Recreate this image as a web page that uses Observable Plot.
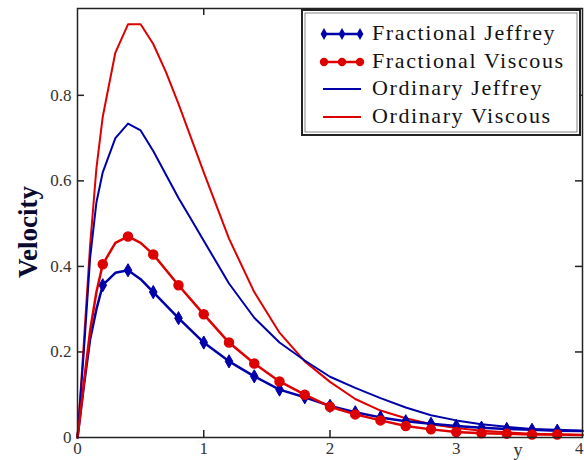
<!DOCTYPE html>
<html>
<head>
<meta charset="utf-8">
<script src="https://cdn.jsdelivr.net/npm/d3@7"></script>
<script src="https://cdn.jsdelivr.net/npm/@observablehq/plot@0.6"></script>
<style>
  html, body { margin: 0; padding: 0; background: #fff; }
  #chart { width: 584px; height: 460px; overflow: hidden; }
</style>
</head>
<body>
<div id="chart"></div>
<script>
// ---- data ----
const xOrd = [0,0.05,0.1,0.15,0.2,0.3,0.4,0.5,0.6,0.7,0.8,0.9,1.0,1.2,1.4,1.6,1.8,2.0,2.2,2.4,2.6,2.8,3.0,3.2,3.4,3.6,3.8,4.0];
const ordViscous = [0,0.22,0.45,0.63,0.75,0.90,0.966,0.966,0.92,0.855,0.78,0.70,0.62,0.465,0.34,0.245,0.178,0.13,0.09,0.063,0.045,0.031,0.022,0.016,0.012,0.009,0.007,0.006];
const ordJeffrey = [0,0.2,0.42,0.55,0.62,0.70,0.734,0.718,0.67,0.615,0.56,0.51,0.46,0.36,0.28,0.222,0.18,0.142,0.116,0.092,0.070,0.052,0.040,0.031,0.025,0.020,0.018,0.016];

const xFrac = [0,0.05,0.1,0.15,0.2,0.3,0.4,0.5,0.6,0.8,1.0,1.2,1.4,1.6,1.8,2.0,2.2,2.4,2.6,2.8,3.0,3.2,3.4,3.6,3.8,4.0];
const fracViscous = [0,0.126,0.25,0.34,0.405,0.455,0.470,0.455,0.428,0.356,0.288,0.222,0.173,0.131,0.100,0.072,0.054,0.040,0.027,0.019,0.013,0.010,0.009,0.007,0.007,0.006];
const fracJeffrey = [0,0.12,0.23,0.30,0.356,0.385,0.391,0.37,0.340,0.279,0.222,0.178,0.143,0.112,0.094,0.074,0.059,0.047,0.038,0.032,0.027,0.023,0.020,0.018,0.016,0.015];

const seriesNames = ["Fractional Jeffrey","Fractional Viscous","Ordinary Jeffrey","Ordinary Viscous"];
const xTicks = [0,1,2,3,4];
const xTickLabels = ["0","1","2","3","4"];
const yTicks = [0,0.2,0.4,0.6,0.8];
const yTickLabels = ["0","0.2","0.4","0.6","0.8"];
const xLabel = "y";
const yLabel = "Velocity";

// ---- build tables ----
const RED = "#dd0000", BLUE = "#0000aa";
const FONT = "'Liberation Serif', 'Times New Roman', Times, serif";
const ordV = xOrd.map((x,i)=>({x, y: ordViscous[i]}));
const ordJ = xOrd.map((x,i)=>({x, y: ordJeffrey[i]}));
const fracV = xFrac.map((x,i)=>({x, y: fracViscous[i]}));
const fracJ = xFrac.map((x,i)=>({x, y: fracJeffrey[i]}));
const isMarker = d => d.x >= 0.19 && d.x <= 3.81 && Math.abs(d.x*5 - Math.round(d.x*5)) < 1e-6;

const W = 584, H = 460;
const mL = 77, mR = 2, mT = 8, mB = 23;
const innerW = W - mL - mR, innerH = H - mT - mB;
const tickLen = 7;

const plot = Plot.plot({
  width: W, height: H,
  marginLeft: mL, marginRight: mR, marginTop: mT, marginBottom: mB,
  style: {fontFamily: FONT, fontSize: "17px", color: "#333", background: "#fff", overflow: "visible"},
  x: {domain: [0,4], ticks: xTicks, tickFormat: d=>xTickLabels[xTicks.indexOf(d)], tickSize: 0, tickPadding: 4, label: null},
  y: {domain: [0,1.003], ticks: yTicks, tickFormat: d=>yTickLabels[yTicks.indexOf(d)], tickSize: 0, tickPadding: 6, label: null},
  marks: [
    Plot.ruleX(xTicks.slice(1,-1), {x: d=>d, insetTop: innerH - tickLen, stroke: "#222", strokeWidth: 1.5}),
    Plot.ruleX(xTicks.slice(1,-1), {x: d=>d, insetBottom: innerH - tickLen, stroke: "#222", strokeWidth: 1.5}),
    Plot.ruleY(yTicks.slice(1), {y: d=>d, insetRight: innerW - tickLen, stroke: "#222", strokeWidth: 1.5}),
    Plot.ruleY(yTicks.slice(1), {y: d=>d, insetLeft: innerW - tickLen, stroke: "#222", strokeWidth: 1.5}),
    Plot.line(ordV, {x:"x", y:"y", stroke: RED, strokeWidth: 2}),
    Plot.line(ordJ, {x:"x", y:"y", stroke: BLUE, strokeWidth: 2}),
    Plot.line(fracJ, {x:"x", y:"y", stroke: BLUE, strokeWidth: 2.5}),
    Plot.dot(fracJ.filter(isMarker), {x:"x", y:"y", symbol: "diamond", r: 4, fill: BLUE, stroke: BLUE, strokeWidth: 1}),
    Plot.line(fracV, {x:"x", y:"y", stroke: RED, strokeWidth: 2.5}),
    Plot.dot(fracV.filter(isMarker), {x:"x", y:"y", r: 4.5, fill: RED, stroke: RED}),
    Plot.frame({stroke: "#222", strokeWidth: 1.5})
  ]
});
document.getElementById("chart").appendChild(plot);

const svg = d3.select(plot);
// keep the last x tick label ("4") inside the page
svg.selectAll("[aria-label='x-axis tick label'] text").filter(function(){ return this.textContent === xTickLabels[xTickLabels.length-1]; })
  .attr("text-anchor", "end").attr("dx", 1);

// ---- annotations: axis titles and legend ----
svg.append("text")
  .attr("x", 518).attr("y", 456)
  .attr("text-anchor", "middle")
  .attr("font-family", FONT)
  .attr("font-size", 18).attr("fill", "#333")
  .text(xLabel);
svg.append("text")
  .attr("transform", "translate(37,232) rotate(-90)")
  .attr("text-anchor", "middle")
  .attr("font-family", FONT)
  .attr("font-size", 27).attr("font-weight", "bold").attr("fill", "#0a0a30")
  .text(yLabel);

const lg = svg.append("g");
lg.append("rect").attr("x", 302).attr("y", 10).attr("width", 278).attr("height", 125)
  .attr("fill", "#fff").attr("stroke", "#222").attr("stroke-width", 2);
lg.append("rect").attr("x", 305).attr("y", 13).attr("width", 272).attr("height", 119)
  .attr("fill", "none").attr("stroke", "#666").attr("stroke-width", 0.8);
const rowY = [34, 62, 89, 117];
const styles = [
  {c: BLUE, m: "diamond"}, {c: RED, m: "circle"}, {c: BLUE, m: null}, {c: RED, m: null}
];
seriesNames.forEach((name, i) => {
  const y = rowY[i], s = styles[i];
  lg.append("line").attr("x1", 323).attr("x2", 361).attr("y1", y).attr("y2", y)
    .attr("stroke", s.c).attr("stroke-width", s.m ? 2.5 : 2);
  if (s.m) {
    [324, 342, 360].forEach(cx => {
      const sym = s.m === "diamond" ? d3.symbolDiamond : d3.symbolCircle;
      const size = s.m === "diamond" ? 40 : 55;
      lg.append("path").attr("d", d3.symbol(sym, size)()).attr("transform", `translate(${cx},${y})`)
        .attr("fill", s.c);
    });
  }
  lg.append("text").attr("x", 372).attr("y", y + 6)
    .attr("text-anchor", "start")
    .attr("font-family", FONT)
    .attr("font-size", 22).attr("fill", "#111").attr("letter-spacing", "1.6px")
    .text(name);
});
</script>
</body>
</html>
